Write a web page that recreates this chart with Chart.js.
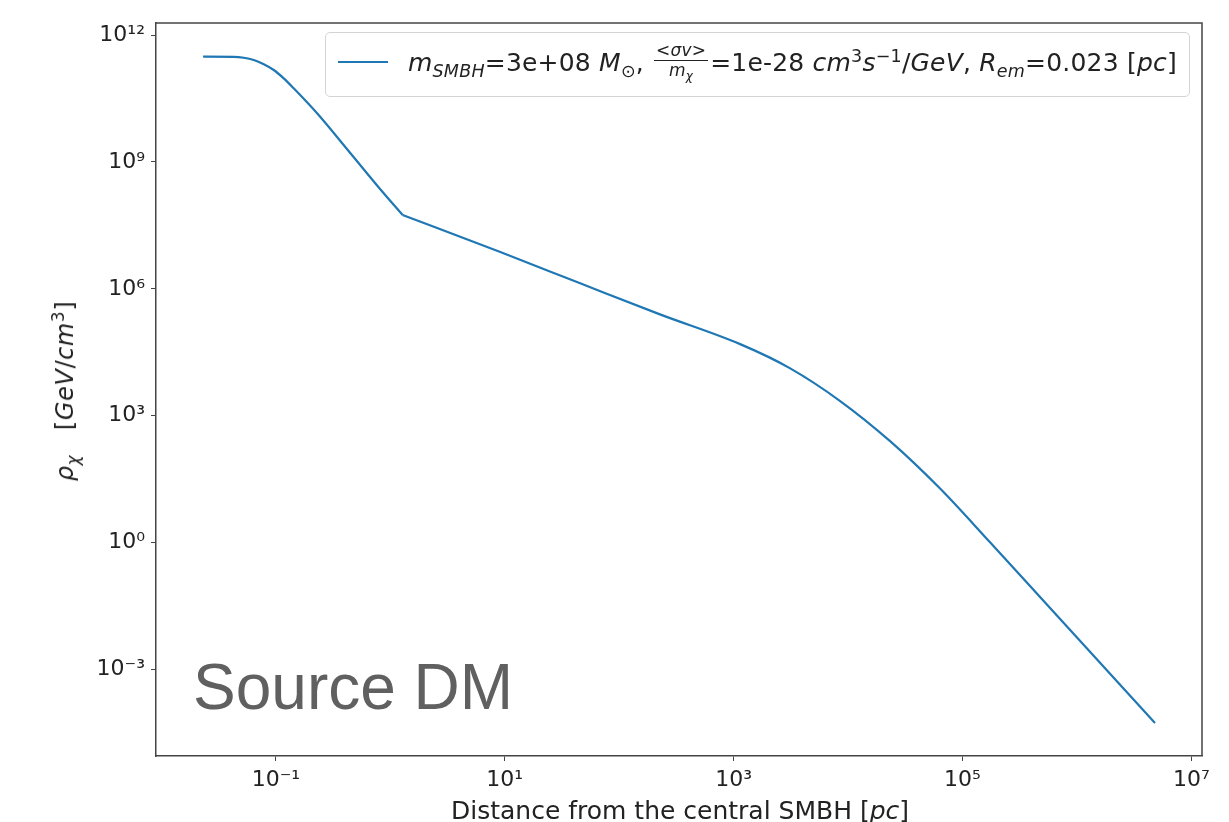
<!DOCTYPE html>
<html>
<head>
<meta charset="utf-8">
<script src="https://cdn.jsdelivr.net/npm/chart.js@4.4.1/dist/chart.umd.min.js"></script>
<style>
  html, body { margin:0; padding:0; background:#fff; }
  #wrap { position:relative; width:1229px; height:822px; overflow:hidden; font-family:'DejaVu Sans', sans-serif; color:#222; }
  #c { position:absolute; left:0; top:0; }
  #legend { position:absolute; left:325px; top:32px; width:865px; height:65px; box-sizing:border-box;
            border:1px solid #d4d4d4; border-radius:5px; background:rgba(255,255,255,0.85); }
  #legend .sw { position:absolute; left:12px; top:28px; width:50px; height:0; border-top:2px solid #1f77b4; }
  #legend .txt { position:absolute; left:82px; top:-3px; height:65px; line-height:65px; font-size:25px; letter-spacing:0.2px; white-space:nowrap; }
  .frac { display:inline-block; vertical-align:middle; text-align:center; line-height:17px; font-size:17px; margin:0 2px; position:relative; top:-4px; }
  .frac .num { display:block; border-bottom:1px solid #222; padding:0 2px 1px; }
  .frac .den { display:block; padding-top:1px; }
  sub, sup { font-size:70%; line-height:0; }
  #ytitle { position:absolute; left:65px; top:391px; transform:translate(-50%,-50%) rotate(-90deg); font-size:24px; letter-spacing:0.6px; white-space:nowrap; }
  #xtitle { position:absolute; left:680px; top:796px; transform:translateX(-50%); font-size:25px; white-space:nowrap; }
  #src { position:absolute; left:193px; top:650px; font-family:'Liberation Sans', Arial, sans-serif; font-size:64px; color:#606060; white-space:nowrap; }
</style>
</head>
<body>
<div id="wrap">
  <canvas id="c" width="1229" height="822"></canvas>
  <div id="legend"><span class="sw"></span><span class="txt" id="legtxt"></span></div>
  <div id="ytitle"><i>ρ</i><sub><i>χ</i></sub>&nbsp;&nbsp;&nbsp;[<i>GeV</i>/<i>cm</i><sup>3</sup>]</div>
  <div id="xtitle">Distance from the central SMBH [<i>pc</i>]</div>
  <div id="src">Source DM</div>
</div>
<script>
// ---- data ----
// inner profile (spike) up to the break, then outer profile from the break
const DISTANCE_INNER_PC = [0.0231, 0.0429, 0.0524, 0.0640, 0.0783, 0.0957, 0.117, 0.143, 0.229, 0.448, 0.875, 1.28];
const RHO_INNER = [3.07e11, 3.05e11, 2.90e11, 2.56e11, 2.03e11, 1.49e11, 9.46e10, 5.50e10, 1.41e10, 1.60e9, 1.81e8, 5.55e7];
const DISTANCE_OUTER_PC = [1.28, 9.14, 45.6, 230, 1140, 3120, 8530, 2.33e4, 6.37e4, 1.74e5, 4.76e5, 4.81e6];
const RHO_OUTER = [5.55e7, 7.40e6, 1.35e6, 2.46e5, 4.93e4, 1.32e4, 2230, 251, 19.0, 1.02, 0.0522, 5.48e-5];
const X_TICKS = [1e-1, 1e1, 1e3, 1e5, 1e7];
const Y_TICKS = [1e-3, 1e0, 1e3, 1e6, 1e9, 1e12];
const M_SMBH = '3e+08';
const SIGMA_V_OVER_M = '1e-28';
const R_EM = '0.023';

document.getElementById('legtxt').innerHTML =
  '<i>m</i><sub><i>SMBH</i></sub>=' + M_SMBH + ' <i>M</i><sub>⊙</sub>, ' +
  '<span class="frac"><span class="num"><i>&lt;σv&gt;</i></span><span class="den"><i>m</i><sub><i>χ</i></sub></span></span>' +
  '=' + SIGMA_V_OVER_M + ' <i>cm</i><sup>3</sup><i>s</i><sup>−1</sup>/<i>GeV</i>, <i>R</i><sub><i>em</i></sub>=' + R_EM + ' [<i>pc</i>]';

const SUP = {'0':'⁰','1':'¹','2':'²','3':'³','4':'⁴','5':'⁵','6':'⁶','7':'⁷','8':'⁸','9':'⁹','-':'⁻'};
function pow10Label(v) {
  const e = Math.round(Math.log10(v));
  return '10' + String(e).split('').map(ch => SUP[ch]).join('');
}

const framePlugin = {
  id: 'frame',
  afterDraw(chart) {
    const {ctx, chartArea: a} = chart;
    ctx.save();
    ctx.strokeStyle = '#444';
    ctx.lineWidth = 1.5;
    ctx.beginPath();
    ctx.moveTo(a.left, a.top); ctx.lineTo(a.right, a.top); ctx.lineTo(a.right, a.bottom);
    ctx.stroke();
    ctx.restore();
  }
};

function series(xs, ys) {
  return {
    label: 'rho',
    data: xs.map((x, i) => ({ x: x, y: ys[i] })),
    borderColor: '#1f77b4',
    borderWidth: 2.2,
    pointRadius: 0,
    cubicInterpolationMode: 'monotone',
    fill: false
  };
}

const tickFont = { family: "'DejaVu Sans', sans-serif", size: 22 };
new Chart(document.getElementById('c'), {
  type: 'line',
  data: { datasets: [series(DISTANCE_INNER_PC, RHO_INNER), series(DISTANCE_OUTER_PC, RHO_OUTER)] },
  options: {
    responsive: false,
    animation: false,
    devicePixelRatio: 1,
    layout: { padding: { top: 23, right: 27, left: 0, bottom: 0 } },
    plugins: { legend: { display: false }, tooltip: { enabled: false } },
    scales: {
      x: {
        type: 'logarithmic',
        min: Math.pow(10, -2.048),
        max: Math.pow(10, 7.093),
        afterBuildTicks: s => { s.ticks = X_TICKS.map(v => ({ value: v })); },
        afterFit: s => { s.height = 66; },
        ticks: { callback: v => pow10Label(v), font: tickFont, color: '#222', padding: 6, maxRotation: 0, autoSkip: false },
        grid: { drawOnChartArea: false, drawTicks: true, tickLength: 5, color: '#444', lineWidth: 1 },
        border: { color: '#444', width: 1.5 }
      },
      y: {
        type: 'logarithmic',
        min: Math.pow(10, -5.043),
        max: Math.pow(10, 12.284),
        afterBuildTicks: s => { s.ticks = Y_TICKS.map(v => ({ value: v })); },
        afterFit: s => { s.width = 156; },
        ticks: { callback: v => pow10Label(v), font: tickFont, color: '#222', padding: 6, autoSkip: false },
        grid: { drawOnChartArea: false, drawTicks: true, tickLength: 5, color: '#444', lineWidth: 1 },
        border: { color: '#444', width: 1.5 }
      }
    }
  },
  plugins: [framePlugin]
});
</script>
</body>
</html>
